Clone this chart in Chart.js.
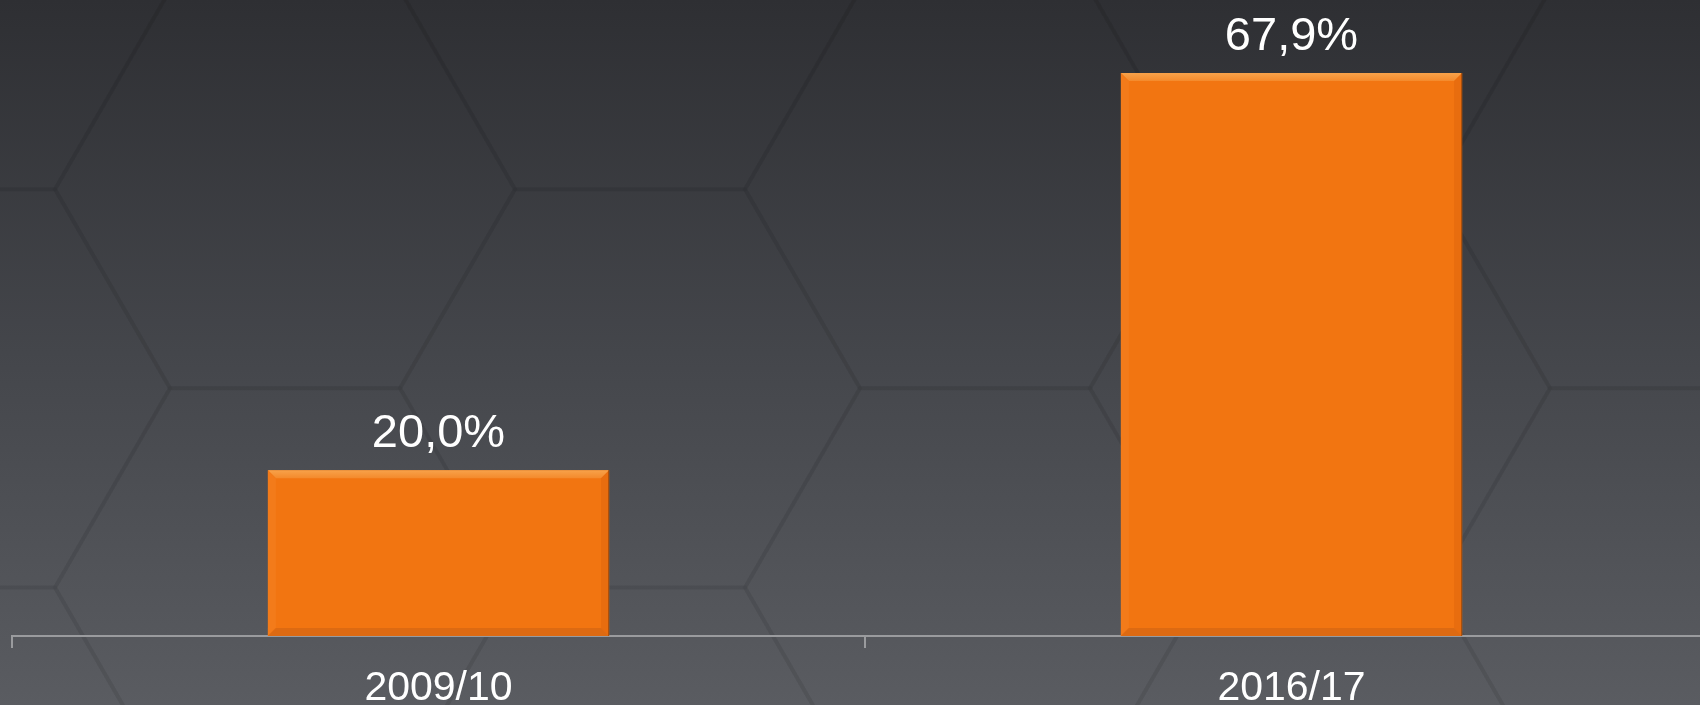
<!DOCTYPE html>
<html>
<head>
<meta charset="utf-8">
<script src="https://cdn.jsdelivr.net/npm/chart.js@4"></script>
<style>
  html, body { margin: 0; padding: 0; overflow: hidden; background: #45464b; }
  #wrap { position: relative; width: 1718px; height: 705px; }
</style>
</head>
<body>
<div id="wrap"><canvas id="shareChart"></canvas></div>
<script>
// Datos
const categories = ['2009/10', '2016/17'];
const shares = [20.0, 67.9];
const shareLabels = ['20,0%', '67,9%'];

// fondo oscuro con hexágonos suaves
const backdrop = {
  id: 'backdrop',
  beforeDraw(chart) {
    const ctx = chart.ctx;
    const w = chart.width, h = chart.height;
    const g = ctx.createLinearGradient(0, 0, 0, h);
    g.addColorStop(0, '#2e2f33');
    g.addColorStop(0.5, '#44464b');
    g.addColorStop(1, '#5a5c61');
    ctx.save();
    ctx.fillStyle = g;
    ctx.fillRect(0, 0, w, h);
    // hexágonos
    const r = 230, hh = Math.sqrt(3) / 2 * r;
    ctx.strokeStyle = 'rgba(0,0,0,0.045)';
    ctx.lineWidth = 4;
    for (let col = -1; col < 7; col++) {
      for (let row = -1; row < 4; row++) {
        const cx = col * r * 1.5 - 60;
        const cy = row * hh * 2 + (col % 2 ? hh : 0) - 10;
        ctx.beginPath();
        for (let k = 0; k < 6; k++) {
          const a = Math.PI / 3 * k;
          const px = cx + r * Math.cos(a), py = cy + r * Math.sin(a);
          k ? ctx.lineTo(px, py) : ctx.moveTo(px, py);
        }
        ctx.closePath();
        ctx.stroke();
      }
    }
    ctx.restore();
  }
};

// biseles de las barras y etiquetas de valor
const barDecor = {
  id: 'barDecor',
  afterDatasetsDraw(chart) {
    const ctx = chart.ctx;
    const meta = chart.getDatasetMeta(0);
    ctx.save();
    meta.data.forEach((bar, i) => {
      const l = bar.x - bar.width / 2, r = bar.x + bar.width / 2;
      const t = bar.y, b = bar.base, e = 8;
      // arriba claro
      const gt = ctx.createLinearGradient(0, t, 0, t + e);
      gt.addColorStop(0, '#f7a24a');
      gt.addColorStop(1, '#f48a2c');
      ctx.fillStyle = gt;
      ctx.beginPath();
      ctx.moveTo(l, t); ctx.lineTo(r, t); ctx.lineTo(r - e, t + e); ctx.lineTo(l + e, t + e);
      ctx.fill();
      // izquierda
      ctx.fillStyle = '#f37b1a';
      ctx.beginPath();
      ctx.moveTo(l, t); ctx.lineTo(l + e, t + e); ctx.lineTo(l + e, b - e); ctx.lineTo(l, b);
      ctx.fill();
      // derecha
      ctx.fillStyle = '#e86d0f';
      ctx.beginPath();
      ctx.moveTo(r, t); ctx.lineTo(r - e, t + e); ctx.lineTo(r - e, b - e); ctx.lineTo(r, b);
      ctx.fill();
      // abajo oscuro
      ctx.fillStyle = '#dd6a12';
      ctx.beginPath();
      ctx.moveTo(l, b); ctx.lineTo(r, b); ctx.lineTo(r - e, b - e); ctx.lineTo(l + e, b - e);
      ctx.fill();
      ctx.strokeStyle = 'rgba(150,70,10,0.8)';
      ctx.lineWidth = 1;
      ctx.beginPath();
      ctx.moveTo(r - 0.5, t); ctx.lineTo(r - 0.5, b);
      ctx.stroke();
      // etiqueta
      ctx.fillStyle = '#ffffff';
      ctx.font = '47px "Liberation Sans", Arial, sans-serif';
      ctx.textAlign = 'center';
      ctx.textBaseline = 'alphabetic';
      ctx.fillText(shareLabels[i], bar.x, t - 23);
    });
    ctx.restore();
  }
};

const config = {
  type: 'bar',
  data: {
    labels: categories,
    datasets: [{
      data: shares,
      backgroundColor: '#f27511',
      borderWidth: 0,
      barPercentage: 0.4,
      categoryPercentage: 1.0
    }]
  },
  options: {
    responsive: true,
    maintainAspectRatio: false,
    animation: false,
    layout: { padding: { left: 12, top: 0, right: 0, bottom: 0 } },
    plugins: {
      legend: { display: false },
      tooltip: { enabled: false }
    },
    scales: {
      x: {
        grid: {
          display: true,
          drawOnChartArea: false,
          drawTicks: true,
          tickLength: 12,
          offset: true,
          color: '#9a9b9e',
          lineWidth: 2
        },
        border: { display: true, color: '#9a9b9e', width: 2 },
        ticks: {
          color: '#ffffff',
          padding: 16,
          font: { family: '"Liberation Sans", Arial, sans-serif', size: 41 }
        },
        afterFit(scale) { scale.height = 69; }
      },
      y: {
        display: false,
        min: 0,
        max: 76.7
      }
    }
  },
  plugins: [backdrop, barDecor]
};

const shareChart = new Chart(document.getElementById('shareChart'), config);
</script>
</body>
</html>
